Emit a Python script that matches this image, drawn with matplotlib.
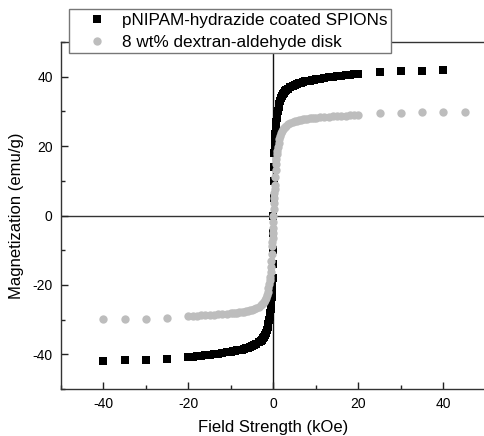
import matplotlib
matplotlib.use("Agg")
import matplotlib.pyplot as plt
from matplotlib.ticker import MultipleLocator

plt.rcParams['font.family'] = ['Liberation Sans', 'DejaVu Sans']
plt.rcParams['axes.unicode_minus'] = False

# ---- data ----
field_outer_black = [-40, -35, -30, -25, 25, 30, 35, 40]
mag_outer_black = [-41.9, -41.7, -41.5, -41.3, 41.3, 41.5, 41.7, 41.9]

field_outer_gray = [-40, -35, -30, -25, 25, 30, 35, 40, 45]
mag_outer_gray = [-29.9, -29.8, -29.7, -29.6, 29.5, 29.6, 29.7, 29.8, 29.9]

field_dense = [-20, -19, -18, -17, -16, -15, -14, -13, -12, -11, -10,
               -9.5, -9, -8.5, -8, -7.5, -7, -6.5, -6, -5.5, -5, -4.5, -4,
               -3.5, -3, -2.75, -2.5, -2.25, -2, -1.8, -1.6, -1.4, -1.2, -1.0,
               -0.9, -0.8, -0.7, -0.6, -0.5, -0.4, -0.3, -0.25, -0.2, -0.15,
               -0.1, -0.05, 0,
               0.05, 0.1, 0.15, 0.2, 0.25, 0.3, 0.4, 0.5, 0.6, 0.7, 0.8, 0.9,
               1.0, 1.2, 1.4, 1.6, 1.8, 2, 2.25, 2.5, 2.75, 3, 3.5, 4, 4.5, 5,
               5.5, 6, 6.5, 7, 7.5, 8, 8.5, 9, 9.5, 10, 11, 12, 13, 14, 15, 16,
               17, 18, 19, 20]

mag_black = [-40.8, -40.7, -40.5, -40.4, -40.2, -40.1, -39.9, -39.8, -39.6,
             -39.4, -39.2, -39.1, -39.0, -38.9, -38.8, -38.7, -38.5, -38.3,
             -38.1, -37.9, -37.6, -37.3, -36.9, -36.5, -36.1, -35.8, -35.4,
             -35.0, -34.5, -33.8, -32.9, -32.1, -31.2, -30.0, -29.2, -28.2,
             -27.0, -25.8, -24.8, -23.5, -21.5, -19.8, -18.0, -14.0, -10.0,
             -5.0, 0.0,
             5.0, 10.0, 14.0, 18.0, 19.8, 21.5, 23.5, 24.8, 25.8, 27.0, 28.2,
             29.2, 30.0, 31.2, 32.1, 32.9, 33.8, 34.5, 35.0, 35.4, 35.8, 36.1,
             36.5, 36.9, 37.3, 37.6, 37.9, 38.1, 38.3, 38.5, 38.7, 38.8, 38.9,
             39.0, 39.1, 39.2, 39.4, 39.6, 39.8, 39.9, 40.1, 40.2, 40.4, 40.5,
             40.7, 40.8]

mag_gray = [-29.0, -28.9, -28.85, -28.8, -28.75, -28.7, -28.6, -28.5, -28.4,
            -28.3, -28.2, -28.15, -28.1, -28.0, -27.9, -27.8, -27.7, -27.6,
            -27.5, -27.3, -27.1, -26.9, -26.6, -26.3, -25.9, -25.6, -25.2,
            -24.8, -24.3, -23.7, -23.0, -22.1, -21.0, -19.6, -18.7, -17.6,
            -16.3, -14.8, -13.0, -11.0, -8.7, -7.5, -6.5, -5.0, -3.5, -2.0,
            0.0,
            2.0, 3.5, 5.0, 6.5, 7.5, 8.7, 11.0, 13.0, 14.8, 16.3, 17.6, 18.7,
            19.6, 21.0, 22.1, 23.0, 23.7, 24.3, 24.8, 25.2, 25.6, 25.9, 26.3,
            26.6, 26.9, 27.1, 27.3, 27.5, 27.6, 27.7, 27.8, 27.9, 28.0, 28.1,
            28.15, 28.2, 28.3, 28.4, 28.5, 28.6, 28.7, 28.75, 28.8, 28.85,
            28.9, 29.0]

label_black = "pNIPAM-hydrazide coated SPIONs"
label_gray = "8 wt% dextran-aldehyde disk"
xticks = [-40, -20, 0, 20, 40]
yticks = [-40, -20, 0, 20, 40]

# ---- figure ----
W, H = 485, 436
fig = plt.figure(figsize=(W / 100, H / 100), dpi=100)
ax = fig.add_axes([61 / W, (H - 389) / H, 425 / W, 347 / H])

ax.axhline(0, color='#333333', lw=1.0, zorder=1)
ax.axvline(0, color='#111111', lw=1.0, zorder=1)

black_x = field_outer_black[:4] + field_dense + field_outer_black[4:]
black_y = mag_outer_black[:4] + mag_black + mag_outer_black[4:]
gray_x = field_outer_gray[:4] + field_dense + field_outer_gray[4:]
gray_y = mag_outer_gray[:4] + mag_gray + mag_outer_gray[4:]

ax.plot(black_x, black_y, ls='none', marker='s', ms=5.4, color='black',
        mec='black', mew=0, label=label_black, zorder=3)
ax.plot(gray_x, gray_y, ls='none', marker='o', ms=6.0, color='#bdbdbd',
        mec='#bdbdbd', mew=0, label=label_gray, zorder=4)

ax.set_xlim(-50, 50)
ax.set_ylim(-50, 50)
ax.set_xticks(xticks)
ax.set_yticks(yticks)
ax.xaxis.set_minor_locator(MultipleLocator(10))
ax.yaxis.set_minor_locator(MultipleLocator(10))
ax.tick_params(which='major', direction='in', length=5, width=1,
               labelsize=10, color='#222222')
ax.tick_params(which='minor', direction='in', length=3, width=1,
               color='#222222')
ax.tick_params(axis='y', which='major', pad=6)
ax.tick_params(axis='x', which='major', pad=6)
ax.tick_params(top=False, right=False, which='both')

for s in ['left', 'bottom', 'top']:
    ax.spines[s].set_linewidth(1.0)
    ax.spines[s].set_color('#333333')
ax.spines['right'].set_visible(False)

ax.set_xlabel('Field Strength (kOe)', fontsize=12)
ax.set_ylabel('Magnetization (emu/g)', fontsize=12)
ax.xaxis.set_label_coords(0.5, -0.09)
ax.yaxis.set_label_coords(-0.087, 0.5)

leg = ax.legend(loc='upper left', bbox_to_anchor=(69 / W, 1 - 9 / H),
                bbox_transform=fig.transFigure, fontsize=12.3,
                frameon=True, fancybox=False, framealpha=1,
                edgecolor='#777777', borderpad=0.21, labelspacing=0.41,
                handlelength=2.8, handletextpad=0.1, borderaxespad=0,
                markerscale=1.0)
leg.get_frame().set_linewidth(1.0)
leg.set_zorder(10)

fig.savefig('out.png', dpi=100)
